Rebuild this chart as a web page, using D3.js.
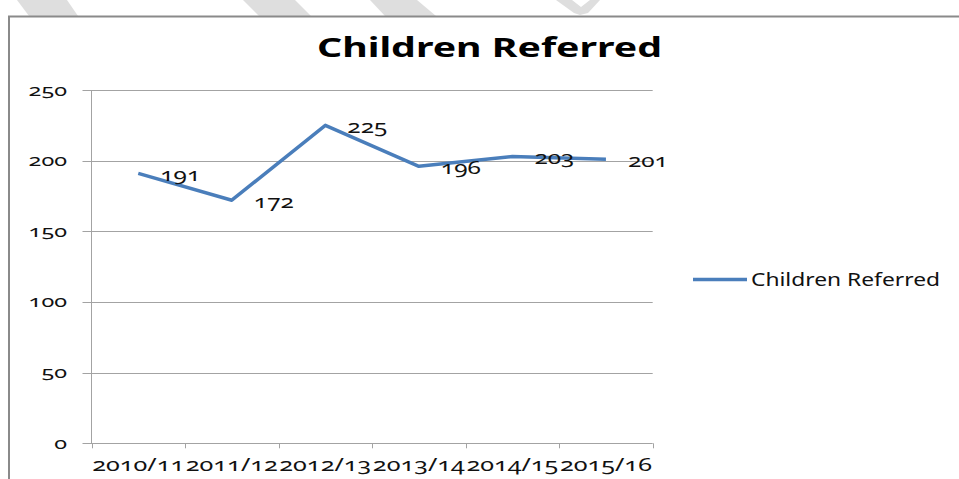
<!DOCTYPE html>
<html>
<head>
<meta charset="utf-8">
<script src="https://cdn.jsdelivr.net/npm/d3@7"></script>
<style>
    body { margin: 0; background: #fff; }
    svg text { font-family: "Noto Sans", "Open Sans", sans-serif; fill: #111; font-variant-numeric: oldstyle-nums; }
</style>
</head>
<body>
<div id="chart"></div>
<script>
// Datos del gráfico
var categories = ["2010/11", "2011/12", "2012/13", "2013/14", "2014/15", "2015/16"];
var referred = [191, 172, 225, 196, 203, 201];
var yTicks = [0, 50, 100, 150, 200, 250];
var seriesName = "Children Referred";
var chartTitle = "Children Referred";

var W = 959, H = 479;
var margin = {top: 90, left: 91.5, right: 652.7, bottom: 443.3};

var svg = d3.select("#chart")
    .append("svg")
    .attr("width", W)
    .attr("height", H);

// marca de agua (trozos grises arriba)
var marks = [
    [[17, 0], [67, 0], [78, 16], [29, 16]],
    [[243, 0], [295, 0], [311, 16], [259, 16]],
    [[370, 0], [417, 0], [436, 16], [385, 16]],
    [[556, 0], [572, 0], [581, 7], [590, 0], [600, 0], [588, 13], [580, 15], [574, 13]]
];
svg.append("g")
    .selectAll("polygon")
    .data(marks)
    .enter()
    .append("polygon")
    .attr("points", function (d) { return d.map(function (p) { return p.join(","); }).join(" "); })
    .attr("fill", "#dedede");

// borde del gráfico
svg.append("path")
    .attr("d", "M9,480 V16.5 H960")
    .attr("fill", "none")
    .attr("stroke", "#8a8a8a")
    .attr("stroke-width", 2);

// escalas
var x = d3.scaleBand()
    .domain(categories)
    .range([margin.left, margin.right]);

var y = d3.scaleLinear()
    .domain([0, 250])
    .range([margin.bottom, margin.top]);

// lineas de cuadricula + marcas del eje Y
svg.append("g")
    .selectAll("line")
    .data(yTicks)
    .enter()
    .append("line")
    .attr("x1", margin.left - 9)
    .attr("x2", margin.right)
    .attr("y1", function (d) { return Math.round(y(d)) + 0.5; })
    .attr("y2", function (d) { return Math.round(y(d)) + 0.5; })
    .attr("stroke", "#a3a3a3")
    .attr("stroke-width", 1);

// eje Y
svg.append("line")
    .attr("x1", margin.left)
    .attr("x2", margin.left)
    .attr("y1", y(250))
    .attr("y2", y(0))
    .attr("stroke", "#a3a3a3");

svg.append("g")
    .selectAll("text")
    .data(yTicks)
    .enter()
    .append("text")
    .attr("x", 67)
    .attr("y", function (d) { return y(d) + 5.5; })
    .attr("text-anchor", "end")
    .attr("font-size", 17)
    .attr("textLength", function (d) { return String(d).length * 12.8; })
    .attr("lengthAdjust", "spacingAndGlyphs")
    .text(function (d) { return d; });

// eje X: marcas en los limites de cada categoria
var edges = categories.map(function (c) { return x(c); }).concat([margin.right]);
svg.append("g")
    .selectAll("line")
    .data(edges)
    .enter()
    .append("line")
    .attr("x1", function (d) { return Math.round(d) + 0.5; })
    .attr("x2", function (d) { return Math.round(d) + 0.5; })
    .attr("y1", y(0))
    .attr("y2", y(0) + 5)
    .attr("stroke", "#a3a3a3");

svg.append("g")
    .selectAll("text")
    .data(categories)
    .enter()
    .append("text")
    .attr("x", function (d) { return x(d) + x.bandwidth() / 2; })
    .attr("y", 471)
    .attr("text-anchor", "middle")
    .attr("font-size", 17.5)
    .attr("textLength", 92)
    .attr("lengthAdjust", "spacingAndGlyphs")
    .text(function (d) { return d; });

// linea de la serie
var line = d3.line()
    .x(function (d, i) { return x(categories[i]) + x.bandwidth() / 2; })
    .y(function (d) { return y(d); });

svg.append("path")
    .datum(referred)
    .attr("d", line)
    .attr("fill", "none")
    .attr("stroke", "#4a7ebb")
    .attr("stroke-width", 3.5)
    .attr("stroke-linejoin", "round");

// etiquetas de datos
svg.append("g")
    .selectAll("text")
    .data(referred)
    .enter()
    .append("text")
    .attr("x", function (d, i) { return x(categories[i]) + x.bandwidth() / 2 + 22; })
    .attr("y", function (d) { return y(d) + 7.5; })
    .attr("font-size", 17.5)
    .attr("textLength", 40)
    .attr("lengthAdjust", "spacingAndGlyphs")
    .text(function (d) { return d; });

// titulo
svg.append("text")
    .attr("x", 489.5)
    .attr("y", 57)
    .attr("text-anchor", "middle")
    .attr("font-size", 26)
    .attr("font-weight", "bold")
    .attr("textLength", 345)
    .attr("lengthAdjust", "spacingAndGlyphs")
    .style("fill", "#000")
    .text(chartTitle);

// leyenda
svg.append("line")
    .attr("x1", 693)
    .attr("x2", 747)
    .attr("y1", 279.5)
    .attr("y2", 279.5)
    .attr("stroke", "#4a7ebb")
    .attr("stroke-width", 3.5);

svg.append("text")
    .attr("x", 751)
    .attr("y", 286)
    .attr("font-size", 17.5)
    .attr("textLength", 189)
    .attr("lengthAdjust", "spacingAndGlyphs")
    .text(seriesName);
</script>
</body>
</html>
